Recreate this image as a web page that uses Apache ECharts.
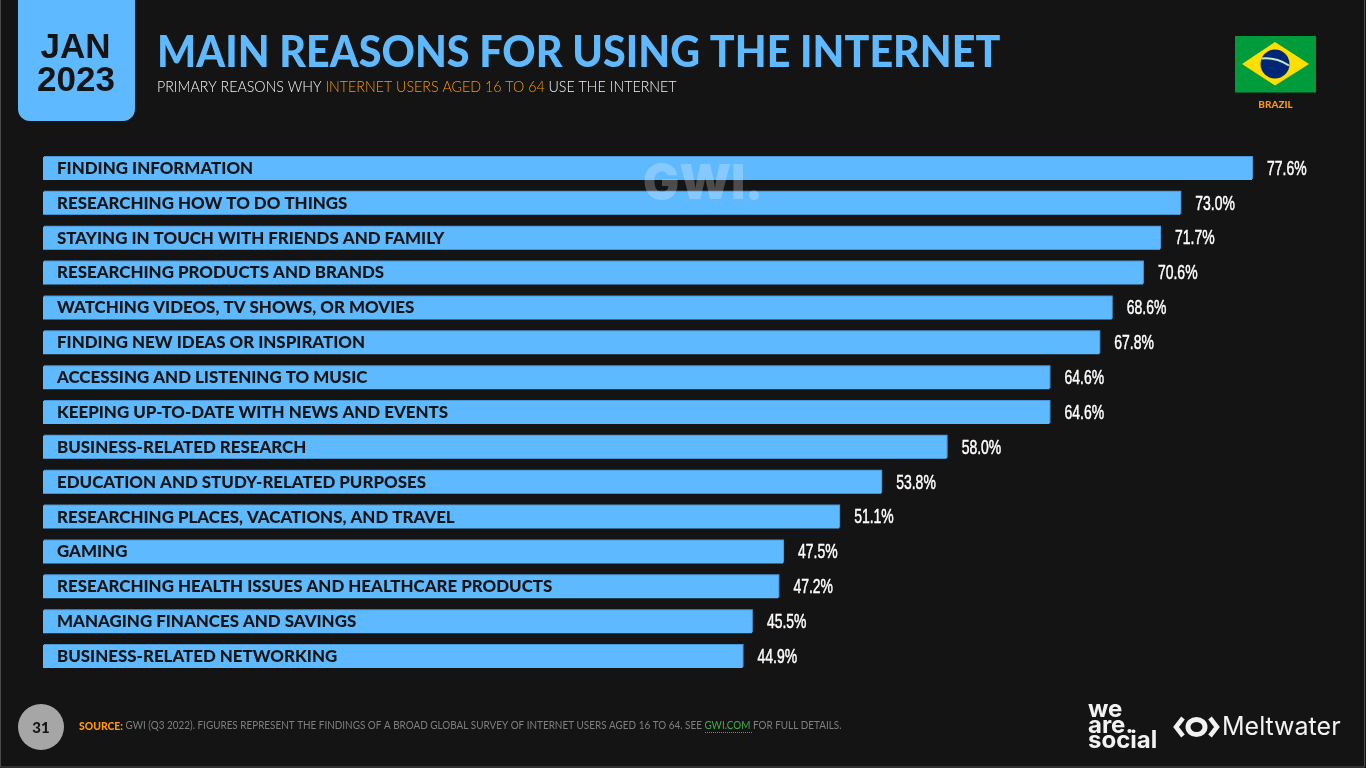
<!DOCTYPE html>
<html>
<head>
<meta charset="utf-8">
<style>
 html,body{margin:0;padding:0;background:#141414;}
 #chart{width:1366px;height:768px;}
</style>
</head>
<body>
<div id="chart"></div>
<script src="https://cdn.jsdelivr.net/npm/echarts@6/dist/echarts.min.js"></script>
<script>
var categories = [
	'FINDING INFORMATION',
	'RESEARCHING HOW TO DO THINGS',
	'STAYING IN TOUCH WITH FRIENDS AND FAMILY',
	'RESEARCHING PRODUCTS AND BRANDS',
	'WATCHING VIDEOS, TV SHOWS, OR MOVIES',
	'FINDING NEW IDEAS OR INSPIRATION',
	'ACCESSING AND LISTENING TO MUSIC',
	'KEEPING UP-TO-DATE WITH NEWS AND EVENTS',
	'BUSINESS-RELATED RESEARCH',
	'EDUCATION AND STUDY-RELATED PURPOSES',
	'RESEARCHING PLACES, VACATIONS, AND TRAVEL',
	'GAMING',
	'RESEARCHING HEALTH ISSUES AND HEALTHCARE PRODUCTS',
	'MANAGING FINANCES AND SAVINGS',
	'BUSINESS-RELATED NETWORKING'
];
var shares = [77.6, 73.0, 71.7, 70.6, 68.6, 67.8, 64.6, 64.6, 58.0, 53.8, 51.1, 47.5, 47.2, 45.5, 44.9];

var BLUE = '#5fb9ff', DARK = '#141414', ORANGE = '#ff9800', LOGO = '#f2f2f2';
var HEAD = 'Lato, sans-serif';
var SANS = '"Liberation Sans", sans-serif';

var myChart = echarts.init(document.getElementById('chart'));

// value labels are narrow in the original, no condensed font here so squeeze the text
function renderValue(params, api) {
	var pos = api.coord([api.value(0), api.value(1)]);
	return {
		type: 'text',
		x: pos[0] + 15,
		y: pos[1] + 0.5,
		scaleX: 0.665,
		style: {
			text: api.value(0).toFixed(1) + '%',
			fill: '#fff',
			stroke: '#fff',
			lineWidth: 0.5,
			font: '21px ' + SANS,
			verticalAlign: 'middle'
		}
	};
}

myChart.setOption({
	backgroundColor: DARK,
	animation: false,
	grid: {left: 43, top: 151, width: 1246.4, height: 523},
	xAxis: {type: 'value', min: 0, max: 80, show: false},
	yAxis: {
		type: 'category',
		data: categories,
		inverse: true,
		axisLine: {show: false},
		axisTick: {show: false},
		axisLabel: {
			inside: true,
			margin: 14,
			padding: [2, 0, 0, 0],
			color: DARK,
			fontFamily: HEAD,
			fontWeight: 900,
			fontSize: 16.9
		},
		z: 5
	},
	series: [{
		type: 'bar',
		data: shares,
		barWidth: 23,
		itemStyle: {color: BLUE, shadowColor: '#4b96d8', shadowBlur: 0, shadowOffsetX: 1, shadowOffsetY: -1}
	}, {
		type: 'custom',
		renderItem: renderValue,
		encode: {x: 0, y: 1},
		data: shares.map(function (v, i) { return [v, i]; }),
		z: 6
	}],
	graphic: [
		// slide edge
		{type: 'rect', shape: {x: 0.5, y: -2, width: 1364, height: 769}, style: {fill: 'none', stroke: '#4a4a4a', lineWidth: 1}, silent: true},
		// date badge
		{type: 'rect', shape: {x: 18, y: -20, width: 117, height: 141, r: 12}, style: {fill: BLUE}},
		{type: 'text', x: 75.5, y: 48.5, style: {text: 'JAN', fill: DARK, font: 'bold 35px ' + SANS, align: 'center', verticalAlign: 'middle'}},
		{type: 'text', x: 76, y: 81.5, style: {text: '2023', fill: DARK, font: 'bold 35px ' + SANS, align: 'center', verticalAlign: 'middle'}},
		// heading
		{type: 'text', x: 157, y: 52.5, scaleX: 0.937, style: {text: 'MAIN REASONS FOR USING THE INTERNET', fill: BLUE, font: '900 44px ' + HEAD, verticalAlign: 'middle'}},
		{type: 'text', x: 157, y: 87.5, scaleX: 0.949, style: {
			text: '{a|PRIMARY REASONS WHY }{b|INTERNET USERS AGED 16 TO 64}{a| USE THE INTERNET}',
			verticalAlign: 'middle',
			rich: {
				a: {fill: '#f2f2f2', font: '300 15px ' + HEAD},
				b: {fill: ORANGE, font: '300 15px ' + HEAD}
			}
		}},
		// flag
		{type: 'rect', shape: {x: 1235, y: 36, width: 81, height: 56.5}, style: {fill: '#009b3a'}},
		{type: 'polygon', shape: {points: [[1275, 42], [1309, 64], [1275, 85.5], [1242, 64]]}, style: {fill: '#fedf00'}},
		{type: 'circle', shape: {cx: 1275, cy: 64, r: 14.5}, style: {fill: '#002776'}},
		{type: 'bezierCurve', shape: {x1: 1261.5, y1: 58.5, cpx1: 1276, cpy1: 57, x2: 1289, y2: 65.5}, style: {stroke: '#c8e8cc', lineWidth: 2, fill: 'none'}},
		{type: 'text', x: 1275.5, y: 105, scaleX: 1.05, style: {text: 'BRAZIL', fill: ORANGE, font: '900 9.5px ' + HEAD, align: 'center', verticalAlign: 'middle'}},
		// watermark
		{type: 'text', x: 703, y: 185, z: 20, style: {text: 'GWI.', fill: 'rgba(255,255,255,0.24)', font: '900 48px Inter, sans-serif', align: 'center', verticalAlign: 'middle'}},
		// footer
		{type: 'circle', shape: {cx: 41, cy: 727, r: 23}, style: {fill: '#a6a6a6'}},
		{type: 'text', x: 41, y: 728, style: {text: '31', fill: DARK, font: '900 15px ' + HEAD, align: 'center', verticalAlign: 'middle'}},
		{type: 'text', x: 79, y: 726, scaleX: 0.944, style: {
			text: '{s|SOURCE:}{g| GWI (Q3 2022). FIGURES REPRESENT THE FINDINGS OF A BROAD GLOBAL SURVEY OF INTERNET USERS AGED 16 TO 64. SEE }{l|GWI.COM}{g| FOR FULL DETAILS.}',
			verticalAlign: 'middle',
			rich: {
				s: {fill: ORANGE, font: '900 11px ' + HEAD},
				g: {fill: '#7f7f7f', font: '400 10.5px ' + HEAD},
				l: {fill: '#3fae49', font: '400 10.5px ' + HEAD}
			}
		}},
		{type: 'line', shape: {x1: 705, y1: 732.5, x2: 752, y2: 732.5}, style: {stroke: '#3fae49', lineWidth: 1, lineDash: [1, 1]}},
		// logos
		{type: 'text', x: 1088, y: 710, style: {text: 'we', fill: LOGO, font: 'bold 24px Inter, sans-serif', verticalAlign: 'middle'}},
		{type: 'text', x: 1088, y: 725.5, style: {text: 'are.', fill: LOGO, font: 'bold 24px Inter, sans-serif', verticalAlign: 'middle'}},
		{type: 'text', x: 1088, y: 741, style: {text: 'social', fill: LOGO, font: 'bold 24px Inter, sans-serif', verticalAlign: 'middle'}},
		{type: 'polyline', shape: {points: [[1183, 718], [1176, 727], [1183, 736]]}, style: {stroke: LOGO, lineWidth: 4.5, fill: 'none'}},
		{type: 'polyline', shape: {points: [[1210, 718], [1217, 727], [1210, 736]]}, style: {stroke: LOGO, lineWidth: 4.5, fill: 'none'}},
		{type: 'ellipse', shape: {cx: 1196.5, cy: 727, rx: 8.5, ry: 7.5}, style: {fill: 'none', stroke: LOGO, lineWidth: 5}},
		{type: 'text', x: 1222, y: 727, style: {text: 'Meltwater', fill: LOGO, font: '400 25px Inter, sans-serif', verticalAlign: 'middle'}}
	]
});
</script>
</body>
</html>
